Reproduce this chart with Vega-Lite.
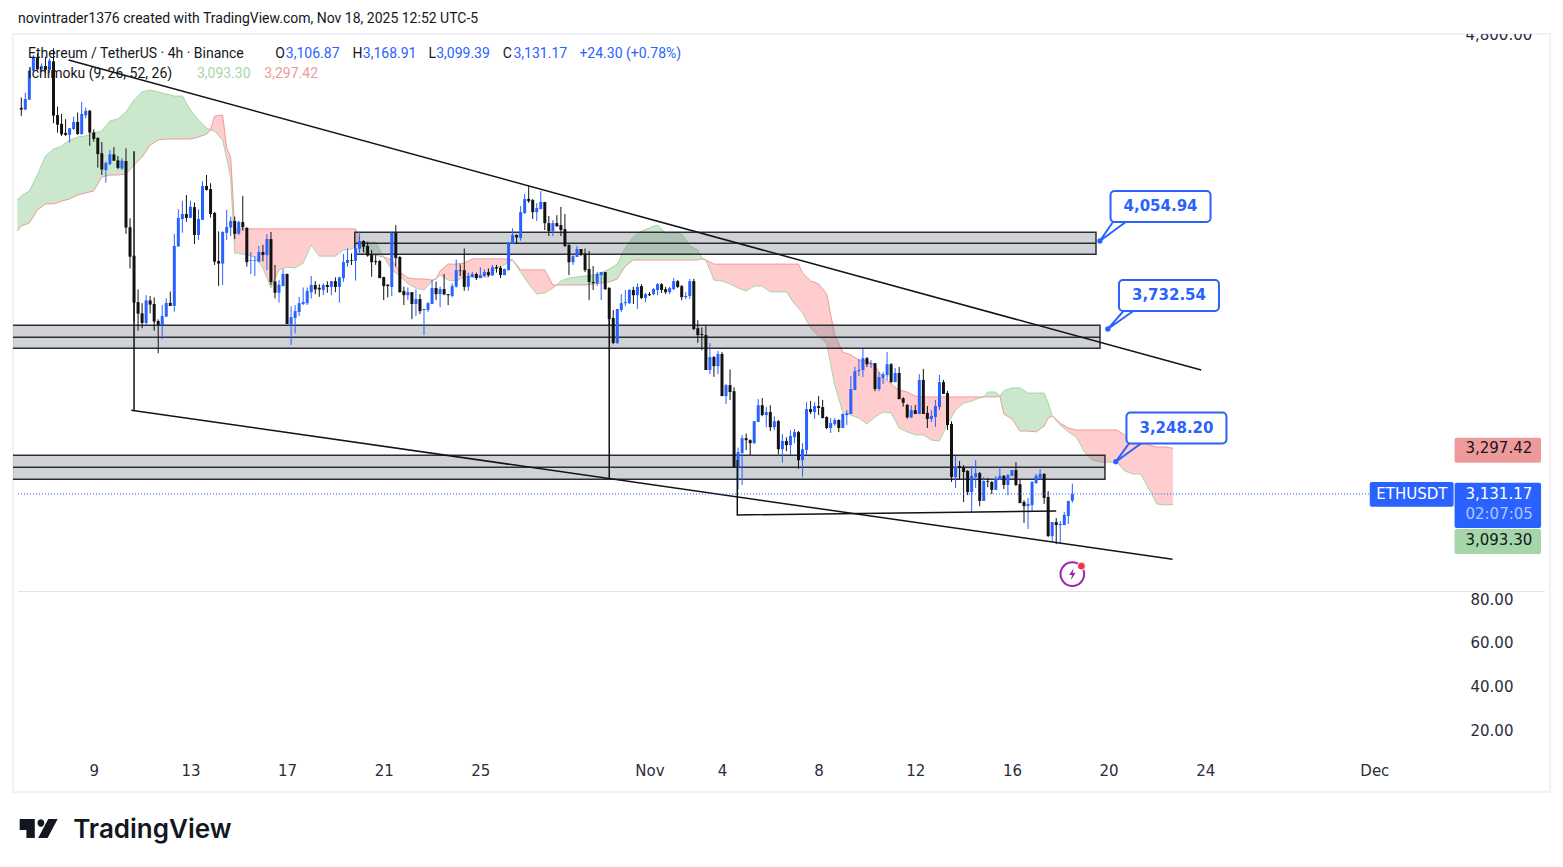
{
"$schema":"https://vega.github.io/schema/vega-lite/v6.json",
"width":1537,"height":758,
"autosize":{"type":"none"},
"padding":{"left":13,"top":34,"right":13,"bottom":75},
"background":"white",
"config":{"view":{"stroke":"#f0f1f5","strokeWidth":2},"text":{"font":"Roboto"}},
"datasets":{
"candles":[
{"t":"2025-10-06T00:00Z","o":4535,"h":4573,"l":4506,"c":4529},
{"t":"2025-10-06T04:00Z","o":4529,"h":4590,"l":4527,"c":4567},
{"t":"2025-10-06T08:00Z","o":4565,"h":4673,"l":4564,"c":4670},
{"t":"2025-10-06T12:00Z","o":4670,"h":4727,"l":4667,"c":4719},
{"t":"2025-10-06T16:00Z","o":4719,"h":4734,"l":4670,"c":4675},
{"t":"2025-10-06T20:00Z","o":4675,"h":4697,"l":4670,"c":4687},
{"t":"2025-10-07T00:00Z","o":4687,"h":4721,"l":4661,"c":4673},
{"t":"2025-10-07T04:00Z","o":4673,"h":4715,"l":4661,"c":4707},
{"t":"2025-10-07T08:00Z","o":4704,"h":4752,"l":4479,"c":4507},
{"t":"2025-10-07T12:00Z","o":4509,"h":4540,"l":4445,"c":4474},
{"t":"2025-10-07T16:00Z","o":4477,"h":4513,"l":4433,"c":4439},
{"t":"2025-10-07T20:00Z","o":4444,"h":4494,"l":4433,"c":4437},
{"t":"2025-10-08T00:00Z","o":4437,"h":4461,"l":4409,"c":4461},
{"t":"2025-10-08T04:00Z","o":4458,"h":4503,"l":4455,"c":4484},
{"t":"2025-10-08T08:00Z","o":4484,"h":4518,"l":4437,"c":4440},
{"t":"2025-10-08T12:00Z","o":4440,"h":4557,"l":4437,"c":4513},
{"t":"2025-10-08T16:00Z","o":4508,"h":4536,"l":4497,"c":4524},
{"t":"2025-10-08T20:00Z","o":4525,"h":4527,"l":4397,"c":4445},
{"t":"2025-10-09T00:00Z","o":4446,"h":4457,"l":4412,"c":4422},
{"t":"2025-10-09T04:00Z","o":4426,"h":4428,"l":4318,"c":4367},
{"t":"2025-10-09T08:00Z","o":4370,"h":4411,"l":4291,"c":4311},
{"t":"2025-10-09T12:00Z","o":4309,"h":4340,"l":4263,"c":4335},
{"t":"2025-10-09T16:00Z","o":4331,"h":4382,"l":4326,"c":4366},
{"t":"2025-10-09T20:00Z","o":4366,"h":4392,"l":4343,"c":4343},
{"t":"2025-10-10T00:00Z","o":4344,"h":4360,"l":4312,"c":4317},
{"t":"2025-10-10T04:00Z","o":4315,"h":4352,"l":4309,"c":4343},
{"t":"2025-10-10T08:00Z","o":4342,"h":4388,"l":4077,"c":4100},
{"t":"2025-10-10T12:00Z","o":4101,"h":4134,"l":3951,"c":3994},
{"t":"2025-10-10T16:00Z","o":3997,"h":4000,"l":3760,"c":3827},
{"t":"2025-10-10T20:00Z","o":3829,"h":3875,"l":3725,"c":3787},
{"t":"2025-10-11T00:00Z","o":3788,"h":3825,"l":3734,"c":3753},
{"t":"2025-10-11T04:00Z","o":3753,"h":3854,"l":3746,"c":3835},
{"t":"2025-10-11T08:00Z","o":3835,"h":3851,"l":3788,"c":3820},
{"t":"2025-10-11T12:00Z","o":3822,"h":3846,"l":3725,"c":3758},
{"t":"2025-10-11T16:00Z","o":3760,"h":3766,"l":3643,"c":3746},
{"t":"2025-10-11T20:00Z","o":3745,"h":3818,"l":3694,"c":3778},
{"t":"2025-10-12T00:00Z","o":3776,"h":3843,"l":3776,"c":3826},
{"t":"2025-10-12T04:00Z","o":3826,"h":3867,"l":3815,"c":3815},
{"t":"2025-10-12T08:00Z","o":3815,"h":4077,"l":3794,"c":4033},
{"t":"2025-10-12T12:00Z","o":4031,"h":4166,"l":4031,"c":4135},
{"t":"2025-10-12T16:00Z","o":4131,"h":4197,"l":4081,"c":4149},
{"t":"2025-10-12T20:00Z","o":4149,"h":4218,"l":4121,"c":4135},
{"t":"2025-10-13T00:00Z","o":4135,"h":4198,"l":4134,"c":4176},
{"t":"2025-10-13T04:00Z","o":4174,"h":4191,"l":4040,"c":4073},
{"t":"2025-10-13T08:00Z","o":4073,"h":4166,"l":4055,"c":4131},
{"t":"2025-10-13T12:00Z","o":4128,"h":4269,"l":4128,"c":4251},
{"t":"2025-10-13T16:00Z","o":4251,"h":4291,"l":4234,"c":4237},
{"t":"2025-10-13T20:00Z","o":4240,"h":4261,"l":4136,"c":4149},
{"t":"2025-10-14T00:00Z","o":4153,"h":4157,"l":3964,"c":3976},
{"t":"2025-10-14T04:00Z","o":3978,"h":4086,"l":3888,"c":3969},
{"t":"2025-10-14T08:00Z","o":3969,"h":4086,"l":3891,"c":4084},
{"t":"2025-10-14T12:00Z","o":4081,"h":4164,"l":4055,"c":4102},
{"t":"2025-10-14T16:00Z","o":4100,"h":4140,"l":4069,"c":4124},
{"t":"2025-10-14T20:00Z","o":4124,"h":4140,"l":4058,"c":4077},
{"t":"2025-10-15T00:00Z","o":4078,"h":4125,"l":4073,"c":4120},
{"t":"2025-10-15T04:00Z","o":4120,"h":4215,"l":4089,"c":4101},
{"t":"2025-10-15T08:00Z","o":4099,"h":4101,"l":3958,"c":3974},
{"t":"2025-10-15T12:00Z","o":3979,"h":4011,"l":3931,"c":3982},
{"t":"2025-10-15T16:00Z","o":3979,"h":3996,"l":3924,"c":3982},
{"t":"2025-10-15T20:00Z","o":3976,"h":4033,"l":3974,"c":4011},
{"t":"2025-10-16T00:00Z","o":4011,"h":4037,"l":3977,"c":4000},
{"t":"2025-10-16T04:00Z","o":4000,"h":4076,"l":3945,"c":4058},
{"t":"2025-10-16T08:00Z","o":4058,"h":4084,"l":3891,"c":3902},
{"t":"2025-10-16T12:00Z","o":3904,"h":3964,"l":3842,"c":3863},
{"t":"2025-10-16T16:00Z","o":3863,"h":3909,"l":3827,"c":3892},
{"t":"2025-10-16T20:00Z","o":3887,"h":3948,"l":3887,"c":3931},
{"t":"2025-10-17T00:00Z","o":3931,"h":3933,"l":3749,"c":3749},
{"t":"2025-10-17T04:00Z","o":3749,"h":3814,"l":3673,"c":3774},
{"t":"2025-10-17T08:00Z","o":3771,"h":3818,"l":3715,"c":3796},
{"t":"2025-10-17T12:00Z","o":3793,"h":3848,"l":3778,"c":3825},
{"t":"2025-10-17T16:00Z","o":3822,"h":3882,"l":3818,"c":3829},
{"t":"2025-10-17T20:00Z","o":3825,"h":3882,"l":3818,"c":3869},
{"t":"2025-10-18T00:00Z","o":3865,"h":3924,"l":3842,"c":3891},
{"t":"2025-10-18T04:00Z","o":3891,"h":3905,"l":3858,"c":3875},
{"t":"2025-10-18T08:00Z","o":3881,"h":3894,"l":3848,"c":3875},
{"t":"2025-10-18T12:00Z","o":3873,"h":3897,"l":3854,"c":3891},
{"t":"2025-10-18T16:00Z","o":3891,"h":3905,"l":3863,"c":3884},
{"t":"2025-10-18T20:00Z","o":3884,"h":3905,"l":3854,"c":3905},
{"t":"2025-10-19T00:00Z","o":3905,"h":3919,"l":3865,"c":3884},
{"t":"2025-10-19T04:00Z","o":3884,"h":3921,"l":3827,"c":3919},
{"t":"2025-10-19T08:00Z","o":3916,"h":4004,"l":3903,"c":3974},
{"t":"2025-10-19T12:00Z","o":3971,"h":4024,"l":3958,"c":3982},
{"t":"2025-10-19T16:00Z","o":3982,"h":4006,"l":3964,"c":3979},
{"t":"2025-10-19T20:00Z","o":3979,"h":4036,"l":3907,"c":4025},
{"t":"2025-10-20T00:00Z","o":4023,"h":4084,"l":4008,"c":4051},
{"t":"2025-10-20T04:00Z","o":4051,"h":4054,"l":4010,"c":4030},
{"t":"2025-10-20T08:00Z","o":4033,"h":4048,"l":3994,"c":3998},
{"t":"2025-10-20T12:00Z","o":4000,"h":4018,"l":3921,"c":3974},
{"t":"2025-10-20T16:00Z","o":3978,"h":4000,"l":3964,"c":3974},
{"t":"2025-10-20T20:00Z","o":3978,"h":3982,"l":3916,"c":3916},
{"t":"2025-10-21T00:00Z","o":3920,"h":3921,"l":3836,"c":3887},
{"t":"2025-10-21T04:00Z","o":3892,"h":3894,"l":3846,"c":3887},
{"t":"2025-10-21T08:00Z","o":3884,"h":4085,"l":3851,"c":4080},
{"t":"2025-10-21T12:00Z","o":4080,"h":4109,"l":3958,"c":3989},
{"t":"2025-10-21T16:00Z","o":3993,"h":3996,"l":3863,"c":3865},
{"t":"2025-10-21T20:00Z","o":3869,"h":3885,"l":3818,"c":3854},
{"t":"2025-10-22T00:00Z","o":3854,"h":3882,"l":3836,"c":3865},
{"t":"2025-10-22T04:00Z","o":3865,"h":3865,"l":3767,"c":3822},
{"t":"2025-10-22T08:00Z","o":3822,"h":3875,"l":3778,"c":3840},
{"t":"2025-10-22T12:00Z","o":3840,"h":3858,"l":3785,"c":3796},
{"t":"2025-10-22T16:00Z","o":3800,"h":3804,"l":3709,"c":3804},
{"t":"2025-10-22T20:00Z","o":3800,"h":3830,"l":3793,"c":3825},
{"t":"2025-10-23T00:00Z","o":3822,"h":3909,"l":3822,"c":3880},
{"t":"2025-10-23T04:00Z","o":3880,"h":3903,"l":3836,"c":3858},
{"t":"2025-10-23T08:00Z","o":3858,"h":3885,"l":3810,"c":3876},
{"t":"2025-10-23T12:00Z","o":3876,"h":3931,"l":3854,"c":3857},
{"t":"2025-10-23T16:00Z","o":3858,"h":3858,"l":3818,"c":3854},
{"t":"2025-10-23T20:00Z","o":3851,"h":3897,"l":3846,"c":3887},
{"t":"2025-10-24T00:00Z","o":3885,"h":3984,"l":3882,"c":3945},
{"t":"2025-10-24T04:00Z","o":3945,"h":3966,"l":3924,"c":3943},
{"t":"2025-10-24T08:00Z","o":3945,"h":4024,"l":3870,"c":3884},
{"t":"2025-10-24T12:00Z","o":3885,"h":3936,"l":3870,"c":3924},
{"t":"2025-10-24T16:00Z","o":3920,"h":3939,"l":3919,"c":3931},
{"t":"2025-10-24T20:00Z","o":3931,"h":3936,"l":3909,"c":3916},
{"t":"2025-10-25T00:00Z","o":3916,"h":3955,"l":3916,"c":3927},
{"t":"2025-10-25T04:00Z","o":3924,"h":3948,"l":3921,"c":3938},
{"t":"2025-10-25T08:00Z","o":3938,"h":3951,"l":3921,"c":3927},
{"t":"2025-10-25T12:00Z","o":3926,"h":3964,"l":3924,"c":3956},
{"t":"2025-10-25T16:00Z","o":3956,"h":3964,"l":3936,"c":3951},
{"t":"2025-10-25T20:00Z","o":3954,"h":3960,"l":3916,"c":3927},
{"t":"2025-10-26T00:00Z","o":3927,"h":3951,"l":3927,"c":3949},
{"t":"2025-10-26T04:00Z","o":3945,"h":4048,"l":3945,"c":4044},
{"t":"2025-10-26T08:00Z","o":4041,"h":4097,"l":4040,"c":4073},
{"t":"2025-10-26T12:00Z","o":4073,"h":4075,"l":4040,"c":4064},
{"t":"2025-10-26T16:00Z","o":4062,"h":4178,"l":4052,"c":4156},
{"t":"2025-10-26T20:00Z","o":4153,"h":4222,"l":4149,"c":4204},
{"t":"2025-10-27T00:00Z","o":4204,"h":4251,"l":4190,"c":4196},
{"t":"2025-10-27T04:00Z","o":4200,"h":4204,"l":4131,"c":4156},
{"t":"2025-10-27T08:00Z","o":4156,"h":4189,"l":4124,"c":4171},
{"t":"2025-10-27T12:00Z","o":4167,"h":4233,"l":4167,"c":4193},
{"t":"2025-10-27T16:00Z","o":4193,"h":4193,"l":4091,"c":4116},
{"t":"2025-10-27T20:00Z","o":4116,"h":4142,"l":4069,"c":4087},
{"t":"2025-10-28T00:00Z","o":4087,"h":4127,"l":4069,"c":4116},
{"t":"2025-10-28T04:00Z","o":4116,"h":4145,"l":4102,"c":4105},
{"t":"2025-10-28T08:00Z","o":4109,"h":4175,"l":4069,"c":4091},
{"t":"2025-10-28T12:00Z","o":4094,"h":4149,"l":4029,"c":4033},
{"t":"2025-10-28T16:00Z","o":4036,"h":4040,"l":3927,"c":3974},
{"t":"2025-10-28T20:00Z","o":3974,"h":4004,"l":3964,"c":3996},
{"t":"2025-10-29T00:00Z","o":3993,"h":4033,"l":3993,"c":4022},
{"t":"2025-10-29T04:00Z","o":4022,"h":4022,"l":3996,"c":4004},
{"t":"2025-10-29T08:00Z","o":4006,"h":4024,"l":3938,"c":3945},
{"t":"2025-10-29T12:00Z","o":3949,"h":4015,"l":3836,"c":3902},
{"t":"2025-10-29T16:00Z","o":3902,"h":3960,"l":3873,"c":3898},
{"t":"2025-10-29T20:00Z","o":3898,"h":3939,"l":3887,"c":3931},
{"t":"2025-10-30T00:00Z","o":3927,"h":3939,"l":3836,"c":3938},
{"t":"2025-10-30T04:00Z","o":3938,"h":3938,"l":3873,"c":3876},
{"t":"2025-10-30T08:00Z","o":3880,"h":3882,"l":3745,"c":3767},
{"t":"2025-10-30T12:00Z","o":3771,"h":3800,"l":3676,"c":3680},
{"t":"2025-10-30T16:00Z","o":3680,"h":3804,"l":3676,"c":3804},
{"t":"2025-10-30T20:00Z","o":3800,"h":3858,"l":3793,"c":3825},
{"t":"2025-10-31T00:00Z","o":3825,"h":3873,"l":3814,"c":3829},
{"t":"2025-10-31T04:00Z","o":3825,"h":3876,"l":3822,"c":3873},
{"t":"2025-10-31T08:00Z","o":3873,"h":3885,"l":3822,"c":3854},
{"t":"2025-10-31T12:00Z","o":3854,"h":3897,"l":3804,"c":3884},
{"t":"2025-10-31T16:00Z","o":3887,"h":3894,"l":3840,"c":3844},
{"t":"2025-10-31T20:00Z","o":3844,"h":3862,"l":3829,"c":3858},
{"t":"2025-11-01T00:00Z","o":3858,"h":3865,"l":3851,"c":3854},
{"t":"2025-11-01T04:00Z","o":3858,"h":3880,"l":3854,"c":3876},
{"t":"2025-11-01T08:00Z","o":3873,"h":3898,"l":3854,"c":3894},
{"t":"2025-11-01T12:00Z","o":3894,"h":3898,"l":3862,"c":3873},
{"t":"2025-11-01T16:00Z","o":3876,"h":3884,"l":3858,"c":3865},
{"t":"2025-11-01T20:00Z","o":3865,"h":3884,"l":3858,"c":3880},
{"t":"2025-11-02T00:00Z","o":3876,"h":3916,"l":3873,"c":3905},
{"t":"2025-11-02T04:00Z","o":3905,"h":3909,"l":3880,"c":3884},
{"t":"2025-11-02T08:00Z","o":3887,"h":3891,"l":3836,"c":3847},
{"t":"2025-11-02T12:00Z","o":3847,"h":3865,"l":3840,"c":3851},
{"t":"2025-11-02T16:00Z","o":3851,"h":3913,"l":3840,"c":3905},
{"t":"2025-11-02T20:00Z","o":3905,"h":3913,"l":3727,"c":3731},
{"t":"2025-11-03T00:00Z","o":3734,"h":3763,"l":3681,"c":3709},
{"t":"2025-11-03T04:00Z","o":3713,"h":3737,"l":3654,"c":3709},
{"t":"2025-11-03T08:00Z","o":3709,"h":3742,"l":3582,"c":3582},
{"t":"2025-11-03T12:00Z","o":3582,"h":3679,"l":3567,"c":3629},
{"t":"2025-11-03T16:00Z","o":3629,"h":3633,"l":3557,"c":3596},
{"t":"2025-11-03T20:00Z","o":3596,"h":3651,"l":3567,"c":3640},
{"t":"2025-11-04T00:00Z","o":3640,"h":3648,"l":3487,"c":3487},
{"t":"2025-11-04T04:00Z","o":3487,"h":3531,"l":3458,"c":3527},
{"t":"2025-11-04T08:00Z","o":3527,"h":3584,"l":3473,"c":3502},
{"t":"2025-11-04T12:00Z","o":3505,"h":3519,"l":3228,"c":3228},
{"t":"2025-11-04T16:00Z","o":3228,"h":3300,"l":3148,"c":3283},
{"t":"2025-11-04T20:00Z","o":3280,"h":3345,"l":3164,"c":3334},
{"t":"2025-11-05T00:00Z","o":3334,"h":3351,"l":3291,"c":3327},
{"t":"2025-11-05T04:00Z","o":3327,"h":3330,"l":3273,"c":3316},
{"t":"2025-11-05T08:00Z","o":3316,"h":3396,"l":3313,"c":3396},
{"t":"2025-11-05T12:00Z","o":3393,"h":3476,"l":3393,"c":3454},
{"t":"2025-11-05T16:00Z","o":3454,"h":3480,"l":3414,"c":3418},
{"t":"2025-11-05T20:00Z","o":3418,"h":3447,"l":3374,"c":3429},
{"t":"2025-11-06T00:00Z","o":3429,"h":3454,"l":3360,"c":3374},
{"t":"2025-11-06T04:00Z","o":3374,"h":3414,"l":3363,"c":3396},
{"t":"2025-11-06T08:00Z","o":3396,"h":3400,"l":3276,"c":3294},
{"t":"2025-11-06T12:00Z","o":3294,"h":3349,"l":3245,"c":3324},
{"t":"2025-11-06T16:00Z","o":3324,"h":3337,"l":3287,"c":3309},
{"t":"2025-11-06T20:00Z","o":3309,"h":3363,"l":3273,"c":3342},
{"t":"2025-11-07T00:00Z","o":3338,"h":3367,"l":3316,"c":3356},
{"t":"2025-11-07T04:00Z","o":3356,"h":3360,"l":3223,"c":3254},
{"t":"2025-11-07T08:00Z","o":3254,"h":3316,"l":3194,"c":3294},
{"t":"2025-11-07T12:00Z","o":3291,"h":3465,"l":3273,"c":3440},
{"t":"2025-11-07T16:00Z","o":3440,"h":3469,"l":3422,"c":3429},
{"t":"2025-11-07T20:00Z","o":3429,"h":3465,"l":3405,"c":3451},
{"t":"2025-11-08T00:00Z","o":3451,"h":3487,"l":3418,"c":3444},
{"t":"2025-11-08T04:00Z","o":3447,"h":3473,"l":3407,"c":3407},
{"t":"2025-11-08T08:00Z","o":3411,"h":3414,"l":3367,"c":3371},
{"t":"2025-11-08T12:00Z","o":3371,"h":3407,"l":3353,"c":3389},
{"t":"2025-11-08T16:00Z","o":3385,"h":3407,"l":3378,"c":3400},
{"t":"2025-11-08T20:00Z","o":3400,"h":3403,"l":3356,"c":3371},
{"t":"2025-11-09T00:00Z","o":3371,"h":3425,"l":3371,"c":3422},
{"t":"2025-11-09T04:00Z","o":3418,"h":3436,"l":3382,"c":3425},
{"t":"2025-11-09T08:00Z","o":3422,"h":3560,"l":3422,"c":3513},
{"t":"2025-11-09T12:00Z","o":3509,"h":3594,"l":3509,"c":3578},
{"t":"2025-11-09T16:00Z","o":3578,"h":3622,"l":3560,"c":3582},
{"t":"2025-11-09T20:00Z","o":3582,"h":3658,"l":3556,"c":3625},
{"t":"2025-11-10T00:00Z","o":3625,"h":3629,"l":3593,"c":3603},
{"t":"2025-11-10T04:00Z","o":3603,"h":3618,"l":3589,"c":3607},
{"t":"2025-11-10T08:00Z","o":3607,"h":3607,"l":3505,"c":3513},
{"t":"2025-11-10T12:00Z","o":3513,"h":3574,"l":3505,"c":3556},
{"t":"2025-11-10T16:00Z","o":3553,"h":3574,"l":3531,"c":3567},
{"t":"2025-11-10T20:00Z","o":3563,"h":3647,"l":3545,"c":3603},
{"t":"2025-11-11T00:00Z","o":3603,"h":3607,"l":3534,"c":3538},
{"t":"2025-11-11T04:00Z","o":3538,"h":3589,"l":3538,"c":3571},
{"t":"2025-11-11T08:00Z","o":3571,"h":3593,"l":3476,"c":3476},
{"t":"2025-11-11T12:00Z","o":3479,"h":3483,"l":3449,"c":3463},
{"t":"2025-11-11T16:00Z","o":3455,"h":3458,"l":3405,"c":3410},
{"t":"2025-11-11T20:00Z","o":3410,"h":3453,"l":3407,"c":3436},
{"t":"2025-11-12T00:00Z","o":3436,"h":3455,"l":3422,"c":3422},
{"t":"2025-11-12T04:00Z","o":3422,"h":3567,"l":3422,"c":3546},
{"t":"2025-11-12T08:00Z","o":3546,"h":3586,"l":3422,"c":3422},
{"t":"2025-11-12T12:00Z","o":3426,"h":3451,"l":3371,"c":3404},
{"t":"2025-11-12T16:00Z","o":3404,"h":3436,"l":3393,"c":3415},
{"t":"2025-11-12T20:00Z","o":3411,"h":3473,"l":3375,"c":3451},
{"t":"2025-11-13T00:00Z","o":3447,"h":3564,"l":3436,"c":3538},
{"t":"2025-11-13T04:00Z","o":3538,"h":3546,"l":3495,"c":3495},
{"t":"2025-11-13T08:00Z","o":3498,"h":3506,"l":3364,"c":3382},
{"t":"2025-11-13T12:00Z","o":3386,"h":3396,"l":3175,"c":3193},
{"t":"2025-11-13T16:00Z","o":3193,"h":3269,"l":3153,"c":3229},
{"t":"2025-11-13T20:00Z","o":3233,"h":3251,"l":3186,"c":3226},
{"t":"2025-11-14T00:00Z","o":3226,"h":3236,"l":3102,"c":3211},
{"t":"2025-11-14T04:00Z","o":3215,"h":3218,"l":3127,"c":3138},
{"t":"2025-11-14T08:00Z","o":3138,"h":3233,"l":3066,"c":3197},
{"t":"2025-11-14T12:00Z","o":3193,"h":3255,"l":3153,"c":3207},
{"t":"2025-11-14T16:00Z","o":3207,"h":3211,"l":3087,"c":3106},
{"t":"2025-11-14T20:00Z","o":3106,"h":3193,"l":3106,"c":3178},
{"t":"2025-11-15T00:00Z","o":3178,"h":3189,"l":3156,"c":3175},
{"t":"2025-11-15T04:00Z","o":3175,"h":3178,"l":3131,"c":3146},
{"t":"2025-11-15T08:00Z","o":3146,"h":3197,"l":3146,"c":3186},
{"t":"2025-11-15T12:00Z","o":3182,"h":3229,"l":3182,"c":3197},
{"t":"2025-11-15T16:00Z","o":3197,"h":3200,"l":3149,"c":3164},
{"t":"2025-11-15T20:00Z","o":3164,"h":3204,"l":3127,"c":3200},
{"t":"2025-11-16T00:00Z","o":3197,"h":3218,"l":3197,"c":3218},
{"t":"2025-11-16T04:00Z","o":3218,"h":3247,"l":3160,"c":3164},
{"t":"2025-11-16T08:00Z","o":3167,"h":3182,"l":3098,"c":3098},
{"t":"2025-11-16T12:00Z","o":3102,"h":3109,"l":3026,"c":3087},
{"t":"2025-11-16T16:00Z","o":3087,"h":3117,"l":3004,"c":3095},
{"t":"2025-11-16T20:00Z","o":3091,"h":3178,"l":3066,"c":3175},
{"t":"2025-11-17T00:00Z","o":3171,"h":3204,"l":3167,"c":3197},
{"t":"2025-11-17T04:00Z","o":3189,"h":3222,"l":3182,"c":3204},
{"t":"2025-11-17T08:00Z","o":3204,"h":3207,"l":3095,"c":3117},
{"t":"2025-11-17T12:00Z","o":3120,"h":3142,"l":2975,"c":2978},
{"t":"2025-11-17T16:00Z","o":2978,"h":3029,"l":2957,"c":3029},
{"t":"2025-11-17T20:00Z","o":3029,"h":3044,"l":2949,"c":3018},
{"t":"2025-11-18T00:00Z","o":3018,"h":3033,"l":2953,"c":3022},
{"t":"2025-11-18T04:00Z","o":3018,"h":3066,"l":3022,"c":3055},
{"t":"2025-11-18T08:00Z","o":3051,"h":3106,"l":3022,"c":3106},
{"t":"2025-11-18T12:00Z","o":3106.87,"h":3168.91,"l":3099.39,"c":3131.17}
],
"cloud":[
{"s":"g1","t":"2025-10-05T20:00Z","a":4200,"b":4087},
{"s":"g1","t":"2025-10-06T00:00Z","a":4215,"b":4106},
{"s":"g1","t":"2025-10-06T08:00Z","a":4233,"b":4116},
{"s":"g1","t":"2025-10-06T16:00Z","a":4291,"b":4164},
{"s":"g1","t":"2025-10-07T00:00Z","a":4360,"b":4186},
{"s":"g1","t":"2025-10-07T08:00Z","a":4385,"b":4186},
{"s":"g1","t":"2025-10-07T16:00Z","a":4396,"b":4196},
{"s":"g1","t":"2025-10-08T00:00Z","a":4418,"b":4204},
{"s":"g1","t":"2025-10-08T08:00Z","a":4429,"b":4218},
{"s":"g1","t":"2025-10-08T16:00Z","a":4433,"b":4226},
{"s":"g1","t":"2025-10-09T00:00Z","a":4444,"b":4233},
{"s":"g1","t":"2025-10-09T08:00Z","a":4451,"b":4284},
{"s":"g1","t":"2025-10-09T16:00Z","a":4487,"b":4291},
{"s":"g1","t":"2025-10-10T00:00Z","a":4495,"b":4291},
{"s":"g1","t":"2025-10-10T08:00Z","a":4520,"b":4295},
{"s":"g1","t":"2025-10-10T16:00Z","a":4564,"b":4327},
{"s":"g1","t":"2025-10-11T00:00Z","a":4593,"b":4356},
{"s":"g1","t":"2025-10-11T08:00Z","a":4600,"b":4400},
{"s":"g1","t":"2025-10-11T16:00Z","a":4593,"b":4418},
{"s":"g1","t":"2025-10-12T00:00Z","a":4585,"b":4422},
{"s":"g1","t":"2025-10-12T08:00Z","a":4578,"b":4422},
{"s":"g1","t":"2025-10-12T16:00Z","a":4578,"b":4422},
{"s":"g1","t":"2025-10-13T00:00Z","a":4527,"b":4422},
{"s":"g1","t":"2025-10-13T08:00Z","a":4491,"b":4429},
{"s":"g1","t":"2025-10-13T16:00Z","a":4462,"b":4440},
{"s":"g1","t":"2025-10-13T20:00Z","a":4455,"b":4455},
{"s":"r1","t":"2025-10-13T20:00Z","a":4455,"b":4455},
{"s":"r1","t":"2025-10-14T00:00Z","a":4451,"b":4505},
{"s":"r1","t":"2025-10-14T08:00Z","a":4418,"b":4509},
{"s":"r1","t":"2025-10-14T12:00Z","a":4353,"b":4389},
{"s":"r1","t":"2025-10-14T16:00Z","a":4280,"b":4356},
{"s":"r1","t":"2025-10-14T20:00Z","a":4007,"b":4095},
{"s":"r1","t":"2025-10-15T00:00Z","a":4007,"b":4095},
{"s":"r1","t":"2025-10-15T08:00Z","a":4000,"b":4095},
{"s":"r1","t":"2025-10-15T16:00Z","a":3993,"b":4095},
{"s":"r1","t":"2025-10-16T00:00Z","a":3953,"b":4095},
{"s":"r1","t":"2025-10-16T08:00Z","a":3880,"b":4095},
{"s":"r1","t":"2025-10-16T16:00Z","a":3946,"b":4095},
{"s":"r1","t":"2025-10-17T00:00Z","a":3956,"b":4095},
{"s":"r1","t":"2025-10-17T08:00Z","a":3953,"b":4095},
{"s":"r1","t":"2025-10-17T16:00Z","a":3971,"b":4095},
{"s":"r1","t":"2025-10-18T00:00Z","a":4036,"b":4095},
{"s":"r1","t":"2025-10-18T08:00Z","a":3996,"b":4095},
{"s":"r1","t":"2025-10-18T16:00Z","a":3996,"b":4095},
{"s":"r1","t":"2025-10-19T00:00Z","a":3996,"b":4095},
{"s":"r1","t":"2025-10-19T08:00Z","a":4018,"b":4095},
{"s":"r1","t":"2025-10-19T16:00Z","a":4022,"b":4095},
{"s":"r1","t":"2025-10-19T20:00Z","a":4029,"b":4095},
{"s":"r1","t":"2025-10-20T00:00Z","a":4051,"b":4051},
{"s":"g2","t":"2025-10-20T00:00Z","a":4051,"b":4051},
{"s":"g2","t":"2025-10-20T04:00Z","a":4047,"b":4011},
{"s":"g2","t":"2025-10-20T08:00Z","a":4047,"b":4000},
{"s":"g2","t":"2025-10-20T16:00Z","a":4047,"b":4000},
{"s":"g2","t":"2025-10-20T20:00Z","a":4018,"b":3996},
{"s":"g2","t":"2025-10-21T00:00Z","a":3993,"b":3993},
{"s":"r2","t":"2025-10-21T00:00Z","a":3993,"b":3993},
{"s":"r2","t":"2025-10-21T08:00Z","a":3946,"b":3982},
{"s":"r2","t":"2025-10-21T16:00Z","a":3924,"b":3938},
{"s":"r2","t":"2025-10-22T00:00Z","a":3895,"b":3917},
{"s":"r2","t":"2025-10-22T08:00Z","a":3880,"b":3913},
{"s":"r2","t":"2025-10-22T16:00Z","a":3873,"b":3913},
{"s":"r2","t":"2025-10-23T00:00Z","a":3906,"b":3909},
{"s":"r2","t":"2025-10-23T04:00Z","a":3913,"b":3913},
{"s":"r2","t":"2025-10-23T08:00Z","a":3927,"b":3942},
{"s":"r2","t":"2025-10-23T16:00Z","a":3909,"b":3967},
{"s":"r2","t":"2025-10-24T00:00Z","a":3906,"b":3967},
{"s":"r2","t":"2025-10-24T08:00Z","a":3920,"b":3971},
{"s":"r2","t":"2025-10-24T16:00Z","a":3920,"b":3986},
{"s":"r2","t":"2025-10-25T00:00Z","a":3920,"b":3986},
{"s":"r2","t":"2025-10-25T08:00Z","a":3920,"b":3986},
{"s":"r2","t":"2025-10-25T16:00Z","a":3953,"b":3986},
{"s":"r2","t":"2025-10-26T00:00Z","a":3964,"b":3986},
{"s":"r2","t":"2025-10-26T08:00Z","a":3982,"b":3982},
{"s":"r2","t":"2025-10-26T16:00Z","a":3938,"b":3946},
{"s":"r2","t":"2025-10-27T00:00Z","a":3895,"b":3946},
{"s":"r2","t":"2025-10-27T08:00Z","a":3858,"b":3946},
{"s":"r2","t":"2025-10-27T16:00Z","a":3862,"b":3946},
{"s":"r2","t":"2025-10-28T00:00Z","a":3880,"b":3891},
{"s":"r2","t":"2025-10-28T04:00Z","a":3891,"b":3891},
{"s":"g3","t":"2025-10-28T04:00Z","a":3891,"b":3891},
{"s":"g3","t":"2025-10-28T08:00Z","a":3906,"b":3891},
{"s":"g3","t":"2025-10-28T16:00Z","a":3916,"b":3891},
{"s":"g3","t":"2025-10-29T00:00Z","a":3920,"b":3891},
{"s":"g3","t":"2025-10-29T08:00Z","a":3924,"b":3891},
{"s":"g3","t":"2025-10-29T16:00Z","a":3927,"b":3895},
{"s":"g3","t":"2025-10-30T00:00Z","a":3935,"b":3898},
{"s":"g3","t":"2025-10-30T08:00Z","a":3949,"b":3902},
{"s":"g3","t":"2025-10-30T16:00Z","a":3967,"b":3913},
{"s":"g3","t":"2025-10-31T00:00Z","a":4026,"b":3960},
{"s":"g3","t":"2025-10-31T08:00Z","a":4066,"b":3982},
{"s":"g3","t":"2025-10-31T16:00Z","a":4087,"b":3982},
{"s":"g3","t":"2025-11-01T00:00Z","a":4098,"b":3982},
{"s":"g3","t":"2025-11-01T08:00Z","a":4109,"b":3982},
{"s":"g3","t":"2025-11-01T16:00Z","a":4080,"b":3982},
{"s":"g3","t":"2025-11-02T00:00Z","a":4080,"b":3982},
{"s":"g3","t":"2025-11-02T08:00Z","a":4076,"b":3982},
{"s":"g3","t":"2025-11-02T16:00Z","a":4033,"b":3982},
{"s":"g3","t":"2025-11-03T00:00Z","a":4018,"b":3982},
{"s":"g3","t":"2025-11-03T04:00Z","a":3989,"b":3986},
{"s":"g3","t":"2025-11-03T08:00Z","a":3982,"b":3982},
{"s":"r3","t":"2025-11-03T08:00Z","a":3982,"b":3982},
{"s":"r3","t":"2025-11-03T16:00Z","a":3909,"b":3967},
{"s":"r3","t":"2025-11-04T00:00Z","a":3906,"b":3967},
{"s":"r3","t":"2025-11-04T08:00Z","a":3895,"b":3967},
{"s":"r3","t":"2025-11-04T16:00Z","a":3880,"b":3967},
{"s":"r3","t":"2025-11-05T00:00Z","a":3869,"b":3967},
{"s":"r3","t":"2025-11-05T08:00Z","a":3887,"b":3967},
{"s":"r3","t":"2025-11-05T16:00Z","a":3887,"b":3967},
{"s":"r3","t":"2025-11-06T00:00Z","a":3866,"b":3967},
{"s":"r3","t":"2025-11-06T08:00Z","a":3866,"b":3967},
{"s":"r3","t":"2025-11-06T16:00Z","a":3866,"b":3967},
{"s":"r3","t":"2025-11-07T00:00Z","a":3822,"b":3967},
{"s":"r3","t":"2025-11-07T04:00Z","a":3807,"b":3967},
{"s":"r3","t":"2025-11-07T08:00Z","a":3789,"b":3935},
{"s":"r3","t":"2025-11-07T16:00Z","a":3735,"b":3906},
{"s":"r3","t":"2025-11-08T00:00Z","a":3706,"b":3895},
{"s":"r3","t":"2025-11-08T08:00Z","a":3677,"b":3858},
{"s":"r3","t":"2025-11-08T16:00Z","a":3527,"b":3709},
{"s":"r3","t":"2025-11-09T00:00Z","a":3429,"b":3647},
{"s":"r3","t":"2025-11-09T08:00Z","a":3418,"b":3637},
{"s":"r3","t":"2025-11-09T16:00Z","a":3407,"b":3618},
{"s":"r3","t":"2025-11-10T00:00Z","a":3386,"b":3615},
{"s":"r3","t":"2025-11-10T08:00Z","a":3411,"b":3597},
{"s":"r3","t":"2025-11-10T16:00Z","a":3429,"b":3553},
{"s":"r3","t":"2025-11-11T00:00Z","a":3426,"b":3531},
{"s":"r3","t":"2025-11-11T08:00Z","a":3371,"b":3509},
{"s":"r3","t":"2025-11-11T16:00Z","a":3357,"b":3502},
{"s":"r3","t":"2025-11-12T00:00Z","a":3346,"b":3487},
{"s":"r3","t":"2025-11-12T08:00Z","a":3346,"b":3484},
{"s":"r3","t":"2025-11-12T16:00Z","a":3327,"b":3484},
{"s":"r3","t":"2025-11-13T00:00Z","a":3324,"b":3484},
{"s":"r3","t":"2025-11-13T08:00Z","a":3386,"b":3484},
{"s":"r3","t":"2025-11-13T16:00Z","a":3437,"b":3484},
{"s":"r3","t":"2025-11-14T00:00Z","a":3462,"b":3484},
{"s":"r3","t":"2025-11-14T08:00Z","a":3469,"b":3484},
{"s":"r3","t":"2025-11-14T16:00Z","a":3480,"b":3484},
{"s":"r3","t":"2025-11-14T20:00Z","a":3484,"b":3484},
{"s":"g4","t":"2025-11-14T20:00Z","a":3484,"b":3484},
{"s":"g4","t":"2025-11-15T00:00Z","a":3502,"b":3484},
{"s":"g4","t":"2025-11-15T08:00Z","a":3502,"b":3484},
{"s":"g4","t":"2025-11-15T12:00Z","a":3487,"b":3487},
{"s":"g4","t":"2025-11-15T16:00Z","a":3506,"b":3422},
{"s":"g4","t":"2025-11-16T00:00Z","a":3517,"b":3404},
{"s":"g4","t":"2025-11-16T08:00Z","a":3517,"b":3360},
{"s":"g4","t":"2025-11-16T16:00Z","a":3498,"b":3360},
{"s":"g4","t":"2025-11-17T00:00Z","a":3498,"b":3357},
{"s":"g4","t":"2025-11-17T08:00Z","a":3498,"b":3378},
{"s":"g4","t":"2025-11-17T12:00Z","a":3462,"b":3407},
{"s":"g4","t":"2025-11-17T16:00Z","a":3415,"b":3415},
{"s":"r4","t":"2025-11-17T16:00Z","a":3415,"b":3415},
{"s":"r4","t":"2025-11-18T00:00Z","a":3382,"b":3389},
{"s":"r4","t":"2025-11-18T08:00Z","a":3357,"b":3371},
{"s":"r4","t":"2025-11-18T16:00Z","a":3338,"b":3364},
{"s":"r4","t":"2025-11-19T00:00Z","a":3284,"b":3364},
{"s":"r4","t":"2025-11-19T08:00Z","a":3255,"b":3364},
{"s":"r4","t":"2025-11-19T16:00Z","a":3247,"b":3364},
{"s":"r4","t":"2025-11-20T00:00Z","a":3247,"b":3364},
{"s":"r4","t":"2025-11-20T08:00Z","a":3247,"b":3364},
{"s":"r4","t":"2025-11-20T16:00Z","a":3215,"b":3346},
{"s":"r4","t":"2025-11-21T00:00Z","a":3204,"b":3331},
{"s":"r4","t":"2025-11-21T08:00Z","a":3204,"b":3320},
{"s":"r4","t":"2025-11-21T16:00Z","a":3149,"b":3309},
{"s":"r4","t":"2025-11-22T00:00Z","a":3095,"b":3302},
{"s":"r4","t":"2025-11-22T08:00Z","a":3091,"b":3302},
{"s":"r4","t":"2025-11-22T16:00Z","a":3093.3,"b":3297.42}
],
"drawn":[
{"id":"upper","n":1,"t":"2025-10-07T23:00Z","p":4709},
{"id":"upper","n":2,"t":"2025-11-23T20:00Z","p":3582},
{"id":"lower","n":1,"t":"2025-10-10T13:12Z","p":3436},
{"id":"lower","n":2,"t":"2025-11-22T15:30Z","p":2894},
{"id":"drop1","n":1,"t":"2025-10-10T16:00Z","p":4377},
{"id":"drop1","n":2,"t":"2025-10-10T16:00Z","p":3436},
{"id":"drop2","n":1,"t":"2025-10-30T08:00Z","p":3882},
{"id":"drop2","n":2,"t":"2025-10-30T08:00Z","p":3189},
{"id":"base","n":1,"t":"2025-11-04T15:12Z","p":3255},
{"id":"base","n":2,"t":"2025-11-04T15:12Z","p":3055},
{"id":"base","n":3,"t":"2025-11-17T20:00Z","p":3069}
],
"zones":[
{"t":"2025-10-19T19:14Z","t2":"2025-11-19T11:30Z","top":4082.6,"mid":4042.6,"bot":4002.6},
{"t":"2025-10-05T00:00Z","t2":"2025-11-19T15:30Z","top":3744.5,"mid":3700.9,"bot":3660.9},
{"t":"2025-10-05T00:00Z","t2":"2025-11-19T20:24Z","top":3271.9,"mid":3228,"bot":3184.6}
],
"pointers":[
{"id":"a","n":1,"t":"2025-11-20T04:19Z","p":4120},
{"id":"a","n":2,"t":"2025-11-19T15:22Z","p":4051},
{"id":"a","n":3,"t":"2025-11-20T17:02Z","p":4120},
{"id":"b","n":1,"t":"2025-11-20T15:07Z","p":3797.6},
{"id":"b","n":2,"t":"2025-11-19T23:17Z","p":3731},
{"id":"b","n":3,"t":"2025-11-21T00:58Z","p":3797.6},
{"id":"c","n":1,"t":"2025-11-20T20:38Z","p":3316.6},
{"id":"c","n":2,"t":"2025-11-20T07:12Z","p":3248.6},
{"id":"c","n":3,"t":"2025-11-21T08:53Z","p":3316.6}
],
"callouts":[
{"t":"2025-11-22T03:36Z","p":4176.5,"text":"4,054.94"},
{"t":"2025-11-22T12:00Z","p":3852.9,"text":"3,732.54"},
{"t":"2025-11-22T19:26Z","p":3371,"text":"3,248.20"}
],
"tags":[
{"t":"2025-12-04T07:41Z","t2":"2025-12-07T21:36Z","p":3336,"p2":3244.9,"kind":"lead b"},
{"t":"2025-12-04T07:41Z","t2":"2025-12-07T21:36Z","p":3003.9,"p2":2913,"kind":"lead a"},
{"t":"2025-12-04T07:41Z","t2":"2025-12-07T21:36Z","p":3172.2,"p2":3007.5,"kind":"last"},
{"t":"2025-11-30T19:26Z","t2":"2025-12-04T06:43Z","p":3174.8,"p2":3085,"kind":"last"}
],
"tagText":[
{"t":"2025-12-04T18:29Z","p":3297,"text":"3,297.42","kind":"ink"},
{"t":"2025-12-04T18:29Z","p":2964,"text":"3,093.30","kind":"ink"},
{"t":"2025-12-04T18:29Z","p":3131,"text":"3,131.17","kind":"white"},
{"t":"2025-12-04T18:29Z","p":3058.4,"text":"02:07:05","kind":"faded"}
],
"header":[
{"t":"2025-10-05T20:44Z","p":4858,"text":"novintrader1376 created with TradingView.com, Nov 18, 2025 12:52 UTC-5","kind":"ink"},
{"t":"2025-10-06T06:36Z","p":4731,"text":"Ethereum / TetherUS · 4h · Binance","kind":"ink"},
{"t":"2025-10-16T12:14Z","p":4731,"text":"O","kind":"ink"},
{"t":"2025-10-16T22:48Z","p":4731,"text":"3,106.87","kind":"quote"},
{"t":"2025-10-19T16:54Z","p":4731,"text":"H","kind":"ink"},
{"t":"2025-10-20T03:12Z","p":4731,"text":"3,168.91","kind":"quote"},
{"t":"2025-10-22T20:24Z","p":4731,"text":"L","kind":"ink"},
{"t":"2025-10-23T04:05Z","p":4731,"text":"3,099.39","kind":"quote"},
{"t":"2025-10-25T22:19Z","p":4731,"text":"C","kind":"ink"},
{"t":"2025-10-26T08:53Z","p":4731,"text":"3,131.17","kind":"quote"},
{"t":"2025-10-29T02:24Z","p":4731,"text":"+24.30 (+0.78%)","kind":"quote"},
{"t":"2025-10-06T06:36Z","p":4658,"text":"Ichimoku (9, 26, 52, 26)","kind":"ink"},
{"t":"2025-10-13T06:28Z","p":4658,"text":"3,093.30","kind":"lead a"},
{"t":"2025-10-16T01:26Z","p":4658,"text":"3,297.42","kind":"lead b"}
]
},
"layer":[
{
"encoding":{
"x":{"field":"t","type":"temporal","title":null,
"scale":{"type":"utc","domain":["2025-10-05T20:44:00Z","2025-12-08T01:30:00Z"]},
"axis":{"orient":"bottom","offset":-32,"domain":false,"ticks":false,"grid":false,"labelPadding":3,"labelFont":"DejaVu Sans","labelFontSize":15,"labelColor":"#2a2e39","labelOverlap":false,
"values":["2025-10-09T00:00:00Z","2025-10-13T00:00:00Z","2025-10-17T00:00:00Z","2025-10-21T00:00:00Z","2025-10-25T00:00:00Z","2025-11-01T00:00:00Z","2025-11-04T00:00:00Z","2025-11-08T00:00:00Z","2025-11-12T00:00:00Z","2025-11-16T00:00:00Z","2025-11-20T00:00:00Z","2025-11-24T00:00:00Z","2025-12-01T00:00:00Z"],
"labelExpr":"utcdate(datum.value)==1 ? utcFormat(datum.value,'%b') : utcFormat(datum.value,'%-d')"}},
"y":{"field":"p","type":"quantitative","title":null,
"scale":{"domain":[2047.6,4803.7],"nice":false,"zero":false},
"axis":{"orient":"right","offset":-80,"domain":false,"ticks":false,"grid":false,"labelPadding":0,"labelAlign":"left","labelFont":"DejaVu Sans","labelFontSize":15,"labelColor":"#2a2e39","format":",.2f",
"values":[2800,3000,3200,3400,3600,3800,4000,4200,4400,4600]}}
},
"layer":[
{"data":{"name":"cloud"},"mark":{"type":"area","opacity":0.29,"clip":true},
"encoding":{"y":{"field":"a","type":"quantitative","axis":null},"y2":{"field":"b"},"detail":{"field":"s"},
"color":{"condition":{"test":"datum.s[0]=='g'","value":"#4caf50"},"value":"#ff5252"}}},
{"data":{"name":"cloud"},"mark":{"type":"line","color":"#a5d6a7","strokeWidth":1,"clip":true},
"encoding":{"y":{"field":"a","type":"quantitative","axis":null}}},
{"data":{"name":"cloud"},"mark":{"type":"line","color":"#ef9a9a","strokeWidth":1,"clip":true},
"encoding":{"y":{"field":"b","type":"quantitative","axis":null}}},
{"data":{"name":"zones"},"mark":{"type":"rect","fill":"#787b86","fillOpacity":0.34,"stroke":"#2a2e39","strokeWidth":1.5,"clip":true},
"encoding":{"x2":{"field":"t2"},"y":{"field":"top","type":"quantitative","axis":null},"y2":{"field":"bot"}}},
{"data":{"name":"zones"},"mark":{"type":"rule","stroke":"#2a2e39","strokeWidth":1.5,"clip":true},
"encoding":{"x2":{"field":"t2"},"y":{"field":"mid","type":"quantitative","axis":null}}},
{"data":{"name":"candles"},"mark":{"type":"rule","strokeWidth":1,"clip":true},
"encoding":{"y":{"field":"l","type":"quantitative","axis":null},"y2":{"field":"h"},
"color":{"condition":{"test":"datum.c>=datum.o","value":"#2962ff"},"value":"#131313"}}},
{"data":{"name":"candles"},"mark":{"type":"bar","width":3,"clip":true},
"encoding":{"y":{"field":"o","type":"quantitative","axis":null},"y2":{"field":"c"},
"color":{"condition":{"test":"datum.c>=datum.o","value":"#2962ff"},"value":"#131313"}}},
{"data":{"name":"drawn"},"mark":{"type":"line","color":"#131313","strokeWidth":1.5},
"encoding":{"detail":{"field":"id"},"order":{"field":"n"}}},
{"data":{"values":[{"t":"2025-10-05T20:44Z","t2":"2025-11-30T19:26Z","p":3131.17}]},"mark":{"type":"rule","stroke":"#2962ff","strokeWidth":1,"strokeDash":[1,2]},
"encoding":{"x2":{"field":"t2"}}},
{"data":{"values":[{"t":"2025-10-05T20:44Z","t2":"2025-12-08T01:30Z","p":2776.6}]},"mark":{"type":"rule","stroke":"#e0e3eb","strokeWidth":1},
"encoding":{"x2":{"field":"t2"}}},
{"data":{"name":"pointers"},"mark":{"type":"line","color":"#2962ff","strokeWidth":2},
"encoding":{"detail":{"field":"id"},"order":{"field":"n"}}},
{"data":{"name":"pointers"},"transform":[{"filter":"datum.n==2"}],"mark":{"type":"point","filled":true,"color":"#2962ff","size":28,"opacity":1}},
{"data":{"name":"callouts"},"mark":{"type":"rect","width":100,"height":31,"fill":"white","stroke":"#2962ff","strokeWidth":2,"cornerRadius":4}},
{"data":{"name":"callouts"},"mark":{"type":"text","font":"DejaVu Sans","fontWeight":"bold","fontSize":15,"color":"#2962ff","align":"center","baseline":"middle"},
"encoding":{"text":{"field":"text"}}},
{"data":{"name":"tags"},"mark":{"type":"rect","cornerRadius":2},
"encoding":{"x2":{"field":"t2"},"y2":{"field":"p2"},"color":{"field":"kind","type":"nominal","legend":null,
"scale":{"domain":["ink","quote","lead a","lead b","last","white","faded"],"range":["#131722","#2962ff","#a5d6a7","#ef9a9a","#2962ff","#ffffff","#b2c5ff"]}}}},
{"data":{"name":"tagText"},"mark":{"type":"text","font":"DejaVu Sans","fontSize":15,"align":"left","baseline":"middle"},
"encoding":{"text":{"field":"text"},"color":{"field":"kind","type":"nominal","legend":null}}},
{"data":{"values":[{"t":"2025-12-02T13:12Z","p":3131,"text":"ETHUSDT"}]},"mark":{"type":"text","font":"DejaVu Sans","fontSize":15,"color":"white","align":"center","baseline":"middle"},
"encoding":{"text":{"field":"text"}}},
{"data":{"values":[{"t":"2025-12-04T18:29Z","p":4800,"text":"4,800.00"}]},"mark":{"type":"text","font":"DejaVu Sans","fontSize":15,"color":"#2a2e39","align":"left","baseline":"middle","clip":true},
"encoding":{"text":{"field":"text"}}},
{"data":{"name":"header"},"mark":{"type":"text","font":"Roboto","fontSize":14,"align":"left","baseline":"middle"},
"encoding":{"text":{"field":"text"},"color":{"field":"kind","type":"nominal","legend":null}}},
{"data":{"values":[{"t":"2025-11-18T12:00Z","p":2840}]},"mark":{"type":"point","shape":"circle","size":560,"filled":false,"stroke":"#9c27b0","strokeWidth":2,"opacity":1}},
{"data":{"values":[{"t":"2025-11-18T12:00Z","p":2840}]},"mark":{"type":"point","shape":"M .2 -.9 L -.5 .15 L -.05 .15 L -.2 .9 L .5 -.2 L .05 -.2 Z","size":170,"filled":true,"color":"#9c27b0","opacity":1}},
{"data":{"values":[{"t":"2025-11-18T21:00Z","p":2869}]},"mark":{"type":"point","shape":"circle","size":64,"filled":true,"color":"#f23645","stroke":"white","strokeWidth":1,"opacity":1}},
{"data":{"values":[{"t":"2025-10-06T17:16Z","p":1915}]},"mark":{"type":"point","shape":"M -1 -.504 L -.204 -.504 L -.204 .504 L -.646 .504 L -.646 .08 L -1 .08 Z M -.06 -.29 A .177 .177 0 1 0 .292 -.29 A .177 .177 0 1 0 -.06 -.29 Z M .504 -.504 L 1 -.504 L .469 .504 L -.027 .504 Z","size":1444,"filled":true,"color":"#131722","opacity":1}},
{"data":{"values":[{"t":"2025-10-08T03:30Z","p":1909,"text":"TradingView"}]},"mark":{"type":"text","font":"Inter","fontWeight":600,"fontSize":26,"color":"#131722","align":"left","baseline":"middle"},
"encoding":{"text":{"field":"text"}}}
]
},
{
"data":{"values":[{"v":80},{"v":60},{"v":40},{"v":20}]},
"mark":{"type":"rule","opacity":0},
"encoding":{"y":{"field":"v","type":"quantitative","title":null,
"scale":{"domain":[-8.2,338.3],"nice":false,"zero":false},
"axis":{"orient":"right","offset":-80,"domain":false,"ticks":false,"grid":false,"labelPadding":0,"labelAlign":"left","labelFont":"DejaVu Sans","labelFontSize":15,"labelColor":"#2a2e39","format":".2f","values":[80,60,40,20]}}}
}
],
"resolve":{"scale":{"y":"independent","color":"independent"},"axis":{"y":"independent"}}
}
